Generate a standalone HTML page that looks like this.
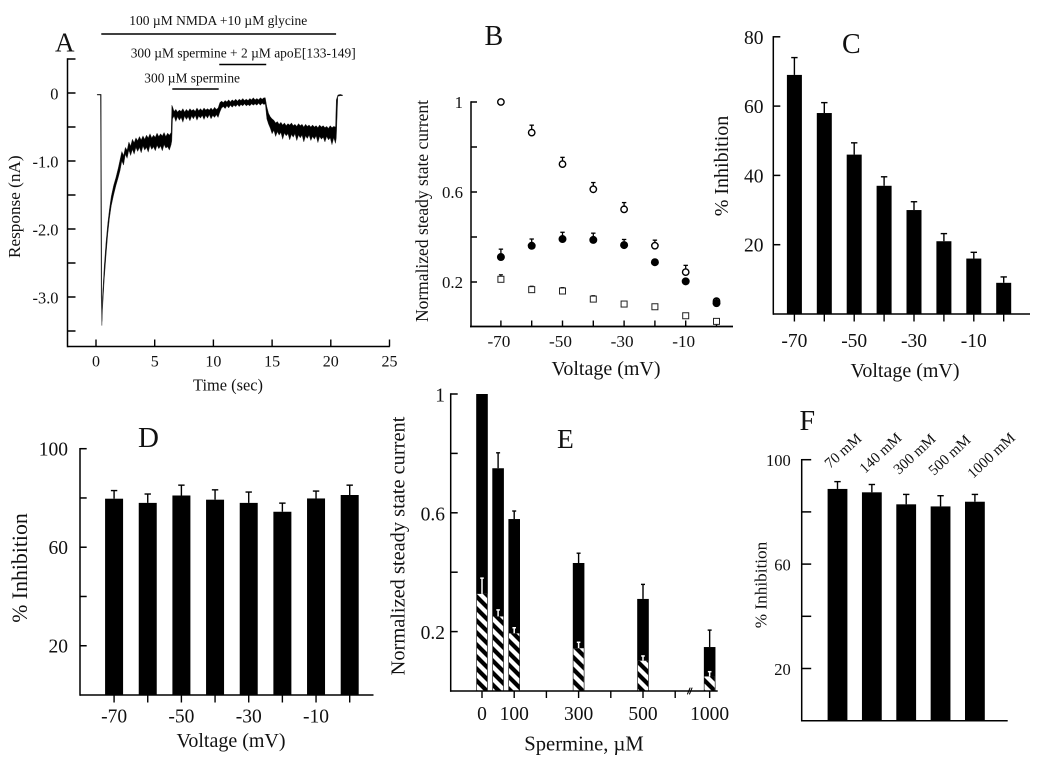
<!DOCTYPE html>
<html lang="en">
<head>
<meta charset="utf-8">
<title>Spermine and apoE inhibition of NMDA responses</title>
<style>
html,body{margin:0;padding:0;background:#fff;}
#figure{display:block;width:1050px;height:765px;filter:blur(0.3px);}
text{font-family:"Liberation Serif",serif;fill:#111;}
</style>
</head>
<body>
<svg id="figure" xmlns="http://www.w3.org/2000/svg" width="1050" height="765" viewBox="0 0 1050 765">
  <defs>
    <pattern id="hatch" patternUnits="userSpaceOnUse" width="12" height="12">
      <path d="M-3,-3 L15,15 M-3,9 L3,15 M9,-3 L15,3" stroke="#000" stroke-width="4.2" fill="none"/>
    </pattern>
  </defs>
  <rect x="0" y="0" width="1050" height="765" fill="#fff"/>

  <g id="panel-a">
    <text x="55" y="51.5" font-size="27">A</text>
    <text x="129.3" y="25" font-size="14" textLength="178" lengthAdjust="spacingAndGlyphs">100 µM NMDA +10 µM glycine</text>
    <text x="130.7" y="57.3" font-size="14" textLength="225" lengthAdjust="spacingAndGlyphs">300 µM spermine + 2 µM apoE[133-149]</text>
    <text x="144.3" y="82.7" font-size="14" textLength="95.7" lengthAdjust="spacingAndGlyphs">300 µM spermine</text>
    <text x="228" y="390.7" font-size="16.4" text-anchor="middle">Time (sec)</text>
    <text transform="translate(20,206.7) rotate(-90)" font-size="17.2" text-anchor="middle">Response (nA)</text>
  </g>

  <g id="panel-b">
    <text x="484.5" y="45" font-size="28">B</text>
    <text x="606" y="375" font-size="20" text-anchor="middle">Voltage (mV)</text>
    <text transform="translate(428,211) rotate(-90)" font-size="17.5" text-anchor="middle">Normalized steady state current</text>
  </g>

  <g id="panel-c">
    <text x="842" y="53" font-size="28">C</text>
    <text x="905" y="377" font-size="20" text-anchor="middle">Voltage (mV)</text>
    <text transform="translate(728,166) rotate(-90)" font-size="20" text-anchor="middle">% Inhibition</text>
  </g>

  <g id="panel-d">
    <text x="138" y="447" font-size="29">D</text>
    <text x="231" y="747" font-size="20" text-anchor="middle">Voltage (mV)</text>
    <text transform="translate(27,568) rotate(-90)" font-size="21.8" text-anchor="middle">% Inhibition</text>
  </g>

  <g id="panel-e">
    <text x="557" y="448" font-size="27.5">E</text>
    <text x="584" y="750.7" font-size="20.6" text-anchor="middle">Spermine, µM</text>
    <text transform="translate(404.3,546) rotate(-90)" font-size="20.4" text-anchor="middle">Normalized steady state current</text>
  </g>

  <g id="panel-f">
    <text x="799.5" y="430" font-size="28">F</text>
    <text transform="translate(766.7,585) rotate(-90)" font-size="17.2" text-anchor="middle">% Inhibition</text>
    <text transform="translate(830,469) rotate(-42)" font-size="15">70 mM</text>
    <text transform="translate(865,474) rotate(-43)" font-size="15">140 mM</text>
    <text transform="translate(899,475) rotate(-43)" font-size="15">300 mM</text>
    <text transform="translate(934,476) rotate(-43)" font-size="15">500 mM</text>
    <text transform="translate(973,479) rotate(-43)" font-size="15">1000 mM</text>
  </g>
</svg>

<script>
// ---------- Panel A data ----------
const aXTicks = [0, 5, 10, 15, 20, 25];
const aYTicks = [0.5, 0, -0.5, -1, -1.5, -2, -2.5, -3, -3.5];
const aYLabels = ['', '0', '', '-1.0', '', '-2.0', '', '-3.0', ''];
const aDrugNames = ['nmda-glycine-bar', 'spermine-apoe-bar', 'spermine-bar'];
const aDrugStart = [0.45, 10.5, 6.5];
const aDrugEnd = [20.45, 14.5, 10.45];
const traceTime = [0.1,0.38,0.44,0.5,0.55,0.7,0.85,1.0,1.15,1.3,1.5,1.7,1.9,2.05,2.2,2.35,2.5,2.65,
  2.8,2.95,3.1,3.25,3.4,3.55,3.7,3.85,4.0,4.15,4.3,4.45,4.6,4.75,4.9,5.05,5.2,5.35,5.5,5.65,5.8,5.95,6.1,6.25,6.4,
  6.46,6.52,6.65,6.8,6.95,7.1,7.25,7.4,7.55,7.7,7.85,8.0,8.15,8.3,8.45,8.6,8.75,8.9,9.05,9.2,9.35,9.5,9.65,9.8,9.95,10.1,10.25,10.4,
  10.55,10.7,10.85,11.0,11.15,11.3,11.45,11.6,11.75,11.9,12.05,12.2,12.35,12.5,12.65,12.8,12.95,13.1,13.25,13.4,13.55,13.7,13.85,14.0,14.15,14.3,14.42,
  14.55,14.7,14.85,15.0,15.15,15.3,15.45,15.6,15.75,15.9,16.05,16.2,16.35,16.5,16.65,16.8,16.95,17.1,17.25,17.4,17.55,17.7,17.85,18.0,18.15,18.3,18.45,18.6,18.75,18.9,19.05,19.2,19.35,19.5,19.65,19.8,19.95,20.1,20.25,20.4,
  20.47,20.6,20.8,21.0];
const traceUpper = [-0.02,-0.02,-0.02,-3.36,-3.0,-2.55,-2.2,-1.92,-1.7,-1.52,-1.36,-1.24,-1.1,-0.98,-0.86,-0.92,-0.8,-0.84,
  -0.72,-0.78,-0.68,-0.73,-0.66,-0.7,-0.64,-0.69,-0.63,-0.68,-0.62,-0.66,-0.6,-0.66,-0.62,-0.65,-0.59,-0.64,-0.6,-0.63,-0.58,-0.64,-0.59,-0.62,-0.58,
  -0.18,-0.2,-0.27,-0.24,-0.28,-0.25,-0.27,-0.23,-0.28,-0.24,-0.27,-0.23,-0.26,-0.24,-0.27,-0.22,-0.26,-0.23,-0.26,-0.22,-0.25,-0.23,-0.25,-0.22,-0.25,-0.21,-0.24,-0.22,
  -0.14,-0.12,-0.14,-0.11,-0.13,-0.1,-0.13,-0.1,-0.12,-0.09,-0.12,-0.09,-0.11,-0.08,-0.11,-0.09,-0.11,-0.08,-0.1,-0.07,-0.1,-0.08,-0.1,-0.07,-0.09,-0.07,-0.07,
  -0.2,-0.3,-0.35,-0.38,-0.4,-0.44,-0.42,-0.46,-0.43,-0.47,-0.44,-0.48,-0.45,-0.47,-0.44,-0.48,-0.46,-0.49,-0.45,-0.48,-0.46,-0.5,-0.46,-0.49,-0.47,-0.5,-0.47,-0.5,-0.48,-0.51,-0.47,-0.5,-0.48,-0.51,-0.49,-0.52,-0.48,-0.51,-0.49,-0.5,
  -0.1,-0.03,-0.02,-0.03];
const traceLower = [-0.03,-0.03,-3.0,-3.42,-3.2,-2.75,-2.4,-2.08,-1.84,-1.66,-1.5,-1.36,-1.24,-1.14,-1.0,-1.06,-0.9,-0.96,
  -0.84,-0.92,-0.83,-0.9,-0.8,-0.86,-0.8,-0.88,-0.78,-0.84,-0.8,-0.87,-0.77,-0.83,-0.79,-0.85,-0.77,-0.82,-0.78,-0.85,-0.76,-0.81,-0.79,-0.84,-0.76,
  -0.7,-0.38,-0.34,-0.42,-0.35,-0.4,-0.36,-0.43,-0.34,-0.39,-0.35,-0.41,-0.34,-0.38,-0.33,-0.4,-0.34,-0.37,-0.33,-0.39,-0.33,-0.37,-0.32,-0.38,-0.33,-0.36,-0.32,-0.36,
  -0.28,-0.22,-0.2,-0.23,-0.19,-0.22,-0.18,-0.21,-0.18,-0.2,-0.17,-0.2,-0.17,-0.19,-0.16,-0.19,-0.17,-0.19,-0.16,-0.18,-0.16,-0.18,-0.15,-0.18,-0.15,-0.17,-0.16,
  -0.38,-0.46,-0.52,-0.6,-0.55,-0.64,-0.57,-0.62,-0.58,-0.68,-0.59,-0.63,-0.6,-0.69,-0.61,-0.65,-0.6,-0.7,-0.62,-0.66,-0.62,-0.72,-0.63,-0.67,-0.62,-0.7,-0.64,-0.68,-0.63,-0.73,-0.64,-0.68,-0.65,-0.72,-0.64,-0.69,-0.66,-0.76,-0.66,-0.74,
  -0.66,-0.05,-0.04,-0.04];

// ---------- Panel B data ----------
const bVoltages = [-70, -60, -50, -40, -30, -20, -10, 0];
const bXLabels = ['-70', '', '-50', '', '-30', '', '-10', ''];
const bYTicks = [1, 0.8, 0.6, 0.4, 0.2];
const bYLabels = ['1', '', '0.6', '', '0.2'];
const bOpen = [1.0, 0.864, 0.724, 0.612, 0.523, 0.361, 0.244, 0.115];
const bOpenErr = [0, 0.033, 0.03, 0.03, 0.03, 0.025, 0.03, 0.01];
const bFilled = [0.311, 0.361, 0.391, 0.387, 0.364, 0.288, 0.203, 0.106];
const bFilledErr = [0.035, 0.03, 0.03, 0.03, 0.025, 0.01, 0.01, 0.02];
const bSquare = [0.212, 0.166, 0.16, 0.124, 0.102, 0.09, 0.05, 0.025];
const bSquareErr = [0.02, 0.015, 0.015, 0.015, 0.01, 0.005, 0.005, 0.005];

// ---------- Panel C data ----------
const cVoltages = [-70, -60, -50, -40, -30, -20, -10, 0];
const cXLabels = ['-70', '', '-50', '', '-30', '', '-10', ''];
const cYTicks = [80, 60, 40, 20];
const cYLabels = ['80', '60', '40', '20'];
const cValues = [69, 58, 46, 37, 30, 21, 16, 9];
const cErrTops = [74, 61, 49.4, 39.6, 32.4, 23.2, 17.8, 10.7];

// ---------- Panel D data ----------
const dVoltages = [-70, -60, -50, -40, -30, -20, -10, 0];
const dXLabels = ['-70', '', '-50', '', '-30', '', '-10', ''];
const dYTicks = [100, 80, 60, 40, 20];
const dYLabels = ['100', '', '60', '', '20'];
const dValues = [79.7, 78, 81, 79.3, 78, 74.4, 79.8, 81.2];
const dErrTops = [83, 81.6, 85.2, 83.3, 82.4, 77.9, 82.8, 85.2];

// ---------- Panel E data ----------
const eDoses = [0, 50, 100, 300, 500, 1000];
const eXTicks = [0, 100, 200, 300, 400, 500, 600, 1000];
const eXLabels = ['0', '100', '', '300', '', '500', '', '1000'];
const eYTicks = [1, 0.8, 0.6, 0.4, 0.2];
const eYLabels = ['1', '', '0.6', '', '0.2'];
const eSolid = [1, 0.75, 0.579, 0.431, 0.31, 0.148];
const eSolidErrTops = [1, 0.802, 0.606, 0.464, 0.359, 0.205];
const eHatched = [0.327, 0.251, 0.194, 0.144, 0.102, 0.049];
const eHatchedErrTops = [0.38, 0.273, 0.213, 0.164, 0.118, 0.065];

// ---------- Panel F data ----------
const fConcentrations = [70, 140, 300, 500, 1000];
const fYTicks = [100, 80, 60, 40, 20];
const fYLabels = ['100', '', '60', '', '20'];
const fValues = [88.8, 87.5, 82.9, 82.1, 83.9];
const fErrTops = [91.6, 90.5, 86.7, 86.2, 86.7];

// ---------- Scales ----------
const aX = t => 96 + t * 11.74;
const aY = v => 93 - v * 68;
const bX = v => 716.5 + v * 3.08;
const bY = v => 327 - v * 225;
const cX = v => 1003.7 + v * 2.99;
const cY = v => 314 - v * 3.465;
const dX = v => 349.7 + v * 3.366;
const dY = v => 695 - v * 2.463;
const eX = d => 482 + (d >= 1000 ? 707 : d) * 0.322;
const eY = v => 691 - v * 297;
const fIndexX = i => 837.5 + i * 34.35;
const fY = v => 720.7 - v * 2.61;

// ---------- Drawing helpers ----------
const NS = 'http://www.w3.org/2000/svg';
function drawLine(parent, name, x1, y1, x2, y2, width, color) {
  const el = document.createElementNS(NS, 'line');
  
  
  el.setAttribute('x1', x1);
  el.setAttribute('y1', y1);
  el.setAttribute('x2', x2);
  el.setAttribute('y2', y2);
  el.setAttribute('stroke', color || '#000');
  el.setAttribute('stroke-width', width);
  parent.appendChild(el);
  return el;
}
function drawRect(parent, name, x, y, w, h, fill) {
  const el = document.createElementNS(NS, 'rect');
  
  
  el.setAttribute('x', x);
  el.setAttribute('y', y);
  el.setAttribute('width', w);
  el.setAttribute('height', h);
  el.setAttribute('fill', fill);
  parent.appendChild(el);
  return el;
}
function drawText(parent, name, str, x, y, size, anchor) {
  const el = document.createElementNS(NS, 'text');
  
  
  el.setAttribute('x', x);
  el.setAttribute('y', y);
  el.setAttribute('font-size', size);
  el.setAttribute('text-anchor', anchor);
  el.textContent = str;
  parent.appendChild(el);
  return el;
}
function yAxis(parent, prefix, x, yf, ticks, labels, bottom, tickLen, size, labelEnd, labelDy) {
  drawLine(parent, prefix + '-y-axis', x, yf(ticks[0]) - 0.7, x, bottom + 0.7, 1.5);
  ticks.forEach((t, i) => {
    drawLine(parent, prefix + '-y-tick', x, yf(t), x + tickLen, yf(t), 1.5);
    if (labels[i]) drawText(parent, prefix + '-y-tick-label', labels[i], labelEnd, yf(t) + labelDy, size, 'end');
  });
}
function xAxis(parent, prefix, x0, x1, y, width) {
  drawLine(parent, prefix + '-x-axis', x0, y, x1, y, width || 1.5);
}
function xTicks(parent, prefix, ticks, labels, xf, y, tickDy, size, labelY) {
  ticks.forEach((t, i) => {
    drawLine(parent, prefix + '-x-tick', xf(t), y, xf(t), y + tickDy, 1.4);
    if (labels[i]) drawText(parent, prefix + '-x-tick-label', labels[i], xf(t), labelY, size, 'middle');
  });
}
function errorBar(parent, name, x, yBase, yTop, capHalf, color, width) {
  drawLine(parent, name, x, yBase, x, yTop, width, color);
  drawLine(parent, name + '-cap', x - capHalf, yTop, x + capHalf, yTop, width, color);
}
function barSeries(parent, prefix, cats, values, tops, xf, yf, barW) {
  cats.forEach((c, i) => {
    const x = xf(c, i);
    errorBar(parent, prefix + '-error-bar', x, yf(values[i]), yf(tops[i]), 3.2, '#000', 1.4);
    drawRect(parent, prefix + '-bar', x - barW / 2, yf(values[i]), barW, yf(0) - yf(values[i]), '#000');
  });
}

// ---------- Panel A ----------
(function () {
  const g = document.getElementById('panel-a');
  yAxis(g, 'panel-a', 67.5, aY, aYTicks, aYLabels, 346.5, 8, 16.4, 58.5, 6.3);
  xAxis(g, 'panel-a', 67.5, 389.8, 346.5);
  aXTicks.forEach(t => {
    drawLine(g, 'panel-a-x-tick', aX(t), 346.5, aX(t), 339.5, 1.4);
    drawText(g, 'panel-a-x-tick-label', String(t), aX(t), 366.7, 16, 'middle');
  });
  aDrugNames.forEach((n, i) => {
    const yLevels = { 'nmda-glycine-bar': 34, 'spermine-apoe-bar': 64.5, 'spermine-bar': 89 };
    drawLine(g, n, aX(aDrugStart[i]), yLevels[n], aX(aDrugEnd[i]), yLevels[n], 1.5);
  });
  let d = '';
  traceTime.forEach((t, i) => { d += (i ? 'L' : 'M') + aX(t).toFixed(2) + ',' + aY(traceUpper[i]).toFixed(2); });
  for (let i = traceTime.length - 1; i >= 0; i--) {
    d += 'L' + aX(traceTime[i]).toFixed(2) + ',' + aY(traceLower[i]).toFixed(2);
  }
  const trace = document.createElementNS(NS, 'path');
  
  
  trace.setAttribute('d', d + 'Z');
  trace.setAttribute('fill', '#000');
  trace.setAttribute('stroke', '#222');
  trace.setAttribute('stroke-width', '0.4');
  g.appendChild(trace);
})();

// ---------- Panel B ----------
(function () {
  const g = document.getElementById('panel-b');
  yAxis(g, 'panel-b', 471, bY, bYTicks, bYLabels, 326.5, 6, 16.8, 463, 6);
  xAxis(g, 'panel-b', 470, 733, 326.5, 1.7);
  bVoltages.forEach((v, i) => {
    drawLine(g, 'panel-b-x-tick', bX(v), 326.5, bX(v), 320.5, 1.4);
    if (bXLabels[i]) drawText(g, 'panel-b-x-tick-label', bXLabels[i], bX(v) - 2, 347, 17.2, 'middle');
  });
  bVoltages.forEach((v, i) => {
    const x = bX(v);
    errorBar(g, 'open-circle-error-bar', x, bY(bOpen[i]), bY(bOpen[i] + bOpenErr[i]), 2.2, '#000', 1.3);
    const c = document.createElementNS(NS, 'circle');
    
    
    c.setAttribute('cx', x);
    c.setAttribute('cy', bY(bOpen[i]));
    c.setAttribute('r', 3.2);
    c.setAttribute('fill', '#fff');
    c.setAttribute('stroke', '#000');
    c.setAttribute('stroke-width', 1.4);
    g.appendChild(c);
  });
  bVoltages.forEach((v, i) => {
    const x = bX(v);
    errorBar(g, 'filled-circle-error-bar', x, bY(bFilled[i]), bY(bFilled[i] + bFilledErr[i]), 2.2, '#000', 1.3);
    const c = document.createElementNS(NS, 'circle');
    
    
    c.setAttribute('cx', x);
    c.setAttribute('cy', bY(bFilled[i]));
    c.setAttribute('r', 4);
    c.setAttribute('fill', '#000');
    g.appendChild(c);
  });
  bVoltages.forEach((v, i) => {
    const x = bX(v);
    errorBar(g, 'square-error-bar', x, bY(bSquare[i]), bY(bSquare[i] + bSquareErr[i]), 2, '#000', 1.2);
    const s = drawRect(g, 'open-square-point', x - 3, bY(bSquare[i]) - 3, 6, 6, '#fff');
    s.setAttribute('stroke', '#222');
    s.setAttribute('stroke-width', 1);
  });
})();

// ---------- Panel C ----------
(function () {
  const g = document.getElementById('panel-c');
  yAxis(g, 'panel-c', 773.3, cY, cYTicks, cYLabels, 314, 7, 19.5, 763.5, 7);
  barSeries(g, 'panel-c', cVoltages, cValues, cErrTops, cX, cY, 15);
  xAxis(g, 'panel-c', 773, 1030, 314);
  xTicks(g, 'panel-c', cVoltages, cXLabels, cX, 314, 7.5, 19.5, 347);
})();

// ---------- Panel D ----------
(function () {
  const g = document.getElementById('panel-d');
  yAxis(g, 'panel-d', 80, dY, dYTicks, dYLabels, 695, 6.7, 19.5, 68, 7);
  barSeries(g, 'panel-d', dVoltages, dValues, dErrTops, dX, dY, 18);
  xAxis(g, 'panel-d', 80, 373.5, 695);
  xTicks(g, 'panel-d', dVoltages, dXLabels, dX, 695, 7.5, 19.5, 722.7);
})();

// ---------- Panel E ----------
(function () {
  const g = document.getElementById('panel-e');
  yAxis(g, 'panel-e', 450.7, eY, eYTicks, eYLabels, 691, 7, 19.5, 445, 7.5);
  eDoses.forEach((c, i) => {
    const x = eX(c);
    if (eSolidErrTops[i] > eSolid[i]) {
      errorBar(g, 'solid-error-bar', x, eY(eSolid[i]), eY(eSolidErrTops[i]), 2, '#000', 1.4);
    }
    drawRect(g, 'solid-bar', x - 5.8, eY(eSolid[i]), 11.6, eY(0) - eY(eSolid[i]), '#000');
  });
  eDoses.forEach((c, i) => {
    const x = eX(c);
    errorBar(g, 'hatched-error-bar', x, eY(eHatched[i]), eY(eHatchedErrTops[i]), 1.8, '#fff', 1.5);
    const h = eY(0) - eY(eHatched[i]);
    drawRect(g, 'hatched-bar-fill', x - 5.2, eY(eHatched[i]), 10.4, h, '#fff');
    drawRect(g, 'hatched-bar-stripes', x - 5.2, eY(eHatched[i]), 10.4, h, 'url(#hatch)');
  });
  xAxis(g, 'panel-e', 450, 717.7, 691, 1.6);
  xTicks(g, 'panel-e', eXTicks, eXLabels, eX, 691, 7, 19.5, 720);
  const breakA = drawLine(g, 'axis-break-mark', 687.5, 694, 690, 688, 1);
  const breakB = drawLine(g, 'axis-break-mark', 689.5, 694, 692, 688, 1);
  breakA.setAttribute('stroke-linecap', 'round');
  breakB.setAttribute('stroke-linecap', 'round');
})();

// ---------- Panel F ----------
(function () {
  const g = document.getElementById('panel-f');
  yAxis(g, 'panel-f', 801.7, fY, fYTicks, fYLabels, 720.7, 9.5, 16.5, 790.7, 6.5);
  barSeries(g, 'panel-f', fConcentrations, fValues, fErrTops, (c, i) => fIndexX(i), fY, 19.8);
  xAxis(g, 'panel-f', 801, 1007.7, 720.7);
})();
</script>
</body>
</html>
